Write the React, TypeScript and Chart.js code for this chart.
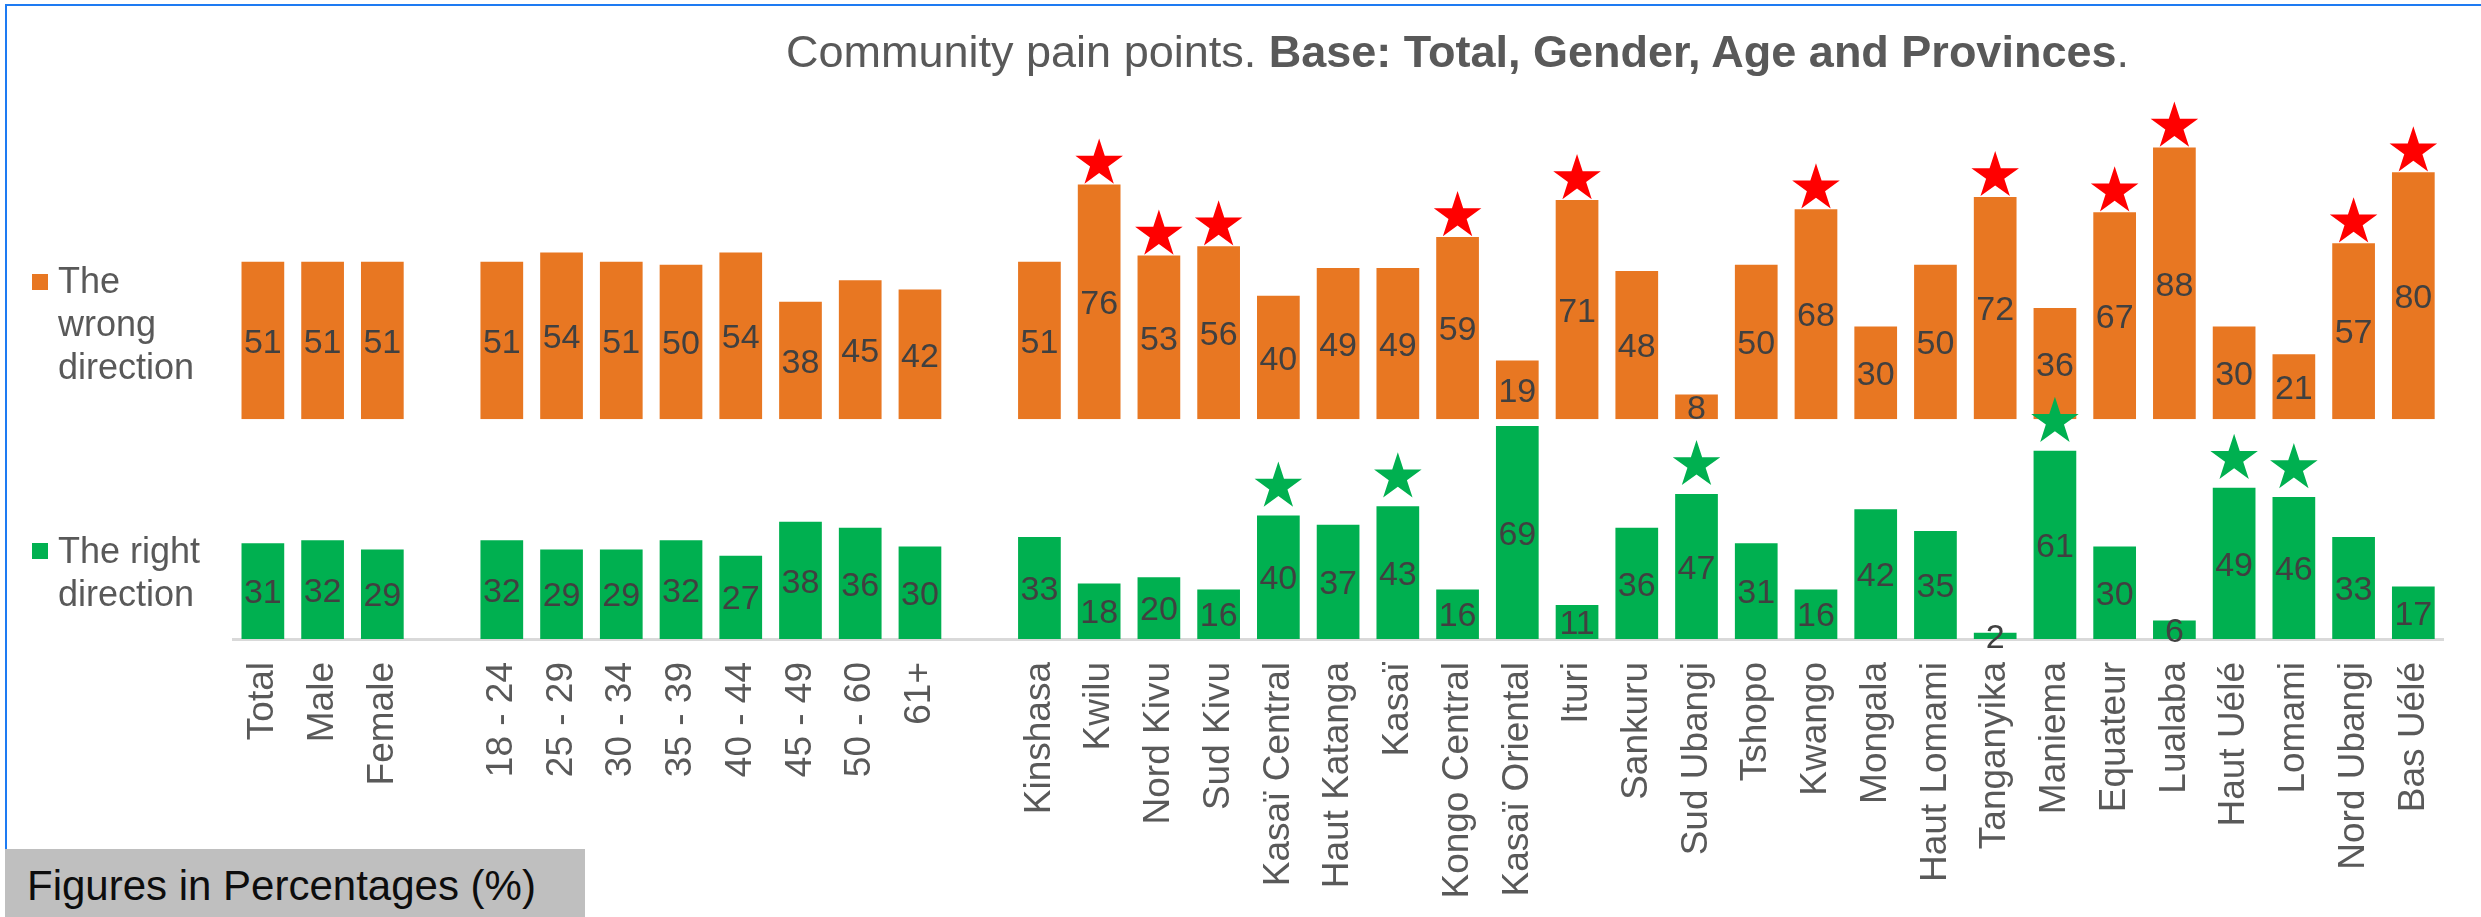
import React, { useEffect, useRef } from "react";
import { Chart, registerables } from "chart.js";

Chart.register(...registerables);

// ---------- DATA ----------
const genderLabels = ["Total", "Male", "Female"];
const ageLabels = ["18 - 24", "25 - 29", "30 - 34", "35 - 39", "40 - 44", "45 - 49", "50 - 60", "61+"];
const provinceLabels = [
  "Kinshasa", "Kwilu", "Nord Kivu", "Sud Kivu", "Kasaï Central", "Haut Katanga", "Kasaï",
  "Kongo Central", "Kasaï Oriental", "Ituri", "Sankuru", "Sud Ubangi", "Tshopo", "Kwango",
  "Mongala", "Haut Lomami", "Tanganyika", "Maniema", "Equateur", "Lualaba", "Haut Uélé",
  "Lomami", "Nord Ubangi", "Bas Uélé",
];

const wrongGender = [51, 51, 51];
const wrongAge = [51, 54, 51, 50, 54, 38, 45, 42];
const wrongProvince = [51, 76, 53, 56, 40, 49, 49, 59, 19, 71, 48, 8, 50, 68, 30, 50, 72, 36, 67, 88, 30, 21, 57, 80];

const rightGender = [31, 32, 29];
const rightAge = [32, 29, 29, 32, 27, 38, 36, 30];
const rightProvince = [33, 18, 20, 16, 40, 37, 43, 16, 69, 11, 36, 47, 31, 16, 42, 35, 2, 61, 30, 6, 49, 46, 33, 17];

const wrongStarred = ["Kwilu", "Nord Kivu", "Sud Kivu", "Kongo Central", "Ituri", "Kwango", "Tanganyika", "Equateur", "Lualaba", "Nord Ubangi", "Bas Uélé"];
const rightStarred = ["Kasaï Central", "Kasaï", "Sud Ubangi", "Maniema", "Haut Uélé", "Lomami"];

const wrongAxisMax = 105;
const rightAxisMax = 71.2;

// ---------- STYLE ----------
const ORANGE = "#E87722";
const GREEN = "#00B050";
const FONT = '"Liberation Sans", Arial, sans-serif';

const labels = [...genderLabels, "", ...ageLabels, "", ...provinceLabels];
const wrongData = [...wrongGender, null, ...wrongAge, null, ...wrongProvince];
const rightData = [...rightGender, null, ...rightAge, null, ...rightProvince];

function drawStar(ctx: CanvasRenderingContext2D, cx: number, cy: number, R: number, color: string) {
  const r = R * 0.382;
  ctx.beginPath();
  for (let k = 0; k < 10; k++) {
    const ang = -Math.PI / 2 + (k * Math.PI) / 5;
    const rad = k % 2 === 0 ? R : r;
    const px = cx + rad * Math.cos(ang);
    const py = cy + rad * Math.sin(ang);
    if (k === 0) ctx.moveTo(px, py);
    else ctx.lineTo(px, py);
  }
  ctx.closePath();
  ctx.fillStyle = color;
  ctx.fill();
}

const overlayPlugin = {
  id: "overlayMarks",
  afterDatasetsDraw(chart: any) {
    const ctx: CanvasRenderingContext2D = chart.ctx;
    ctx.save();
    // stars
    chart.data.datasets.forEach((ds: any, i: number) => {
      const meta = chart.getDatasetMeta(i);
      const starred: string[] = ds.starred || [];
      meta.data.forEach((el: any, j: number) => {
        const v = ds.data[j];
        if (v == null) return;
        if (!starred.includes(labels[j] as string)) return;
        const { x, y } = el.getProps(["x", "y"], true);
        drawStar(ctx, x, y - ds.starGap, 25, ds.starColor);
      });
    });
    // value labels
    ctx.font = `34px ${FONT}`;
    ctx.fillStyle = "#404040";
    ctx.textAlign = "center";
    ctx.textBaseline = "alphabetic";
    chart.data.datasets.forEach((ds: any, i: number) => {
      const meta = chart.getDatasetMeta(i);
      meta.data.forEach((el: any, j: number) => {
        const v = ds.data[j];
        if (v == null) return;
        const { x, y, base } = el.getProps(["x", "y", "base"], true);
        ctx.fillText(String(v), x, (y + base) / 2 + 0.358 * 34);
      });
    });
    ctx.restore();
  },
};

function ChartCanvas() {
  const ref = useRef<HTMLCanvasElement | null>(null);
  useEffect(() => {
    if (!ref.current) return;
    const chart = new Chart(ref.current, {
      type: "bar",
      data: {
        labels,
        datasets: [
          {
            label: "The wrong direction",
            data: wrongData,
            backgroundColor: ORANGE,
            yAxisID: "yWrong",
            grouped: false,
            barPercentage: 0.715,
            categoryPercentage: 1,
            starred: wrongStarred,
            starColor: "#FF0000",
            starGap: 21,
          } as any,
          {
            label: "The right direction",
            data: rightData,
            backgroundColor: GREEN,
            yAxisID: "yRight",
            grouped: false,
            barPercentage: 0.715,
            categoryPercentage: 1,
            starred: rightStarred,
            starColor: GREEN,
            starGap: 29,
          } as any,
        ],
      },
      options: {
        responsive: false,
        animation: false,
        layout: { padding: { left: 233, right: 20, top: 95, bottom: 0 } },
        plugins: {
          legend: { display: false },
          title: { display: false },
          tooltip: { enabled: false },
        },
        scales: {
          x: {
            type: "category",
            grid: { display: false, drawTicks: false },
            border: { display: true, color: "#D9D9D9", width: 3 },
            ticks: {
              autoSkip: false,
              maxRotation: 90,
              minRotation: 90,
              padding: 23,
              color: "#595959",
              font: { family: FONT, size: 37 },
            },
            afterFit: (s: any) => {
              s.height = 278;
            },
          },
          yRight: {
            type: "linear",
            position: "left",
            stack: "panels",
            stackWeight: rightAxisMax,
            weight: 0,
            min: 0,
            max: rightAxisMax,
            display: false,
          },
          yWrong: {
            type: "linear",
            position: "left",
            stack: "panels",
            stackWeight: wrongAxisMax,
            weight: 1,
            min: 0,
            max: wrongAxisMax,
            display: false,
          },
        } as any,
      },
      plugins: [overlayPlugin],
    });
    return () => chart.destroy();
  }, []);
  return <canvas ref={ref} width={2481} height={917} style={{ position: "absolute", left: 0, top: 0, width: 2481, height: 917 }} />;
}

export default function App() {
  const textBase: React.CSSProperties = { position: "absolute", fontFamily: FONT, whiteSpace: "nowrap" };
  return (
    <div style={{ position: "fixed", left: 0, top: 0, width: 2481, height: 917, background: "#fff", overflow: "hidden" }}>
      <div style={{ position: "absolute", left: 5, top: 4, right: -10, bottom: -10, borderTop: "2px solid #1E7BF2", borderLeft: "2px solid #1E7BF2" }} />
      <ChartCanvas />
      <div style={{ ...textBase, left: 786, top: 26, fontSize: 45, lineHeight: "51px", color: "#595959" }}>
        Community pain points. <b>Base: Total, Gender, Age and Provinces</b>.
      </div>
      <div style={{ position: "absolute", left: 32, top: 274, width: 16, height: 16, background: ORANGE }} />
      <div style={{ ...textBase, left: 58, top: 259, fontSize: 36, lineHeight: "43px", color: "#595959" }}>
        The<br />wrong<br />direction
      </div>
      <div style={{ position: "absolute", left: 32, top: 543, width: 16, height: 16, background: GREEN }} />
      <div style={{ ...textBase, left: 58, top: 529, fontSize: 36, lineHeight: "43px", color: "#595959" }}>
        The right<br />direction
      </div>
      <div style={{ position: "absolute", left: 5, top: 849, width: 580, height: 68, background: "#BFBFBF" }} />
      <div style={{ ...textBase, left: 27, top: 862, fontSize: 42, lineHeight: "47px", color: "#0D0D0D" }}>
        Figures in Percentages (%)
      </div>
    </div>
  );
}
